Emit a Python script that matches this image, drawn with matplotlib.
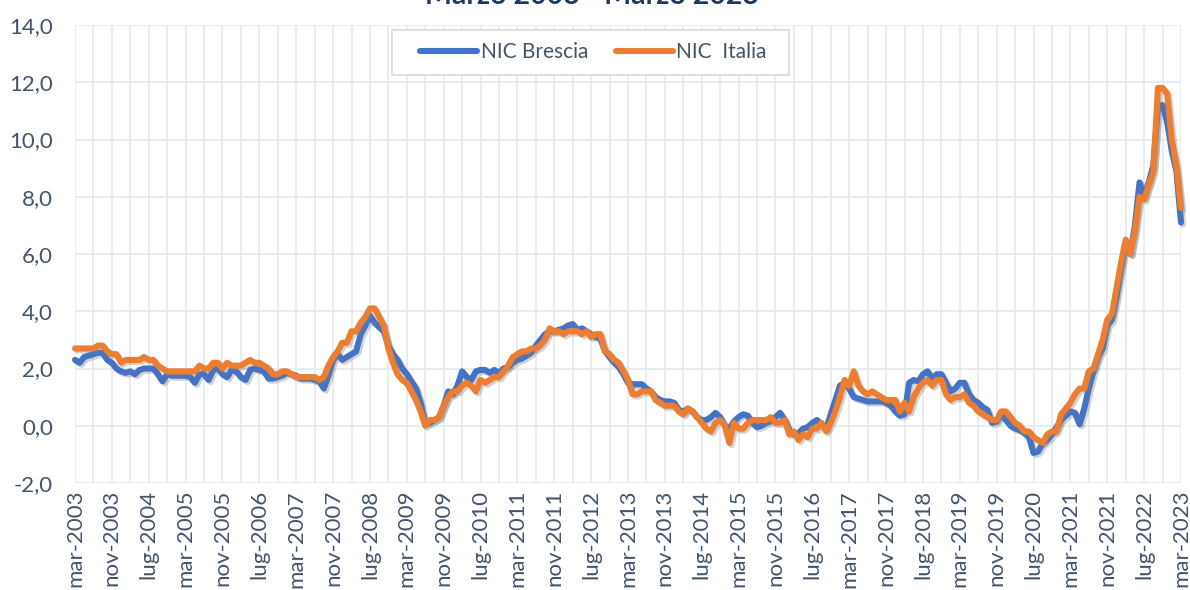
import matplotlib
matplotlib.use("Agg")
import matplotlib.pyplot as plt
import matplotlib.patheffects as pe
from matplotlib.patches import Rectangle
from matplotlib.ticker import FixedLocator, FuncFormatter
import numpy as np

# ---------------- data (monthly, mar-2003 .. mar-2023) ----------------
brescia = (
    [2.3, 2.2, 2.4, 2.45, 2.5, 2.55, 2.55, 2.3, 2.2, 2.0]                          # 2003 mar-dic
    + [1.9, 1.85, 1.9, 1.8, 1.95, 2.0, 2.0, 2.0, 1.8, 1.55, 1.8, 1.75]             # 2004
    + [1.75, 1.75, 1.75, 1.7, 1.5, 1.8, 1.8, 1.6, 1.95, 2.0, 1.8, 1.7]             # 2005
    + [1.95, 1.9, 1.7, 1.6, 1.95, 2.0, 1.95, 1.9, 1.65, 1.65, 1.7, 1.75]           # 2006
    + [1.85, 1.8, 1.75, 1.65, 1.65, 1.65, 1.6, 1.55, 1.3, 1.75, 2.3, 2.5]          # 2007
    + [2.3, 2.4, 2.5, 2.6, 3.2, 3.5, 3.85, 3.6, 3.45, 3.3, 2.8, 2.5]               # 2008
    + [2.3, 2.0, 1.8, 1.55, 1.3, 0.8, 0.1, 0.1, 0.2, 0.3, 0.7, 1.2]                # 2009
    + [1.1, 1.4, 1.9, 1.7, 1.6, 1.9, 1.95, 1.95, 1.85, 1.95, 1.85, 2.0]            # 2010
    + [2.05, 2.2, 2.3, 2.35, 2.45, 2.55, 2.8, 3.0, 3.2, 3.3, 3.3, 3.35]            # 2011
    + [3.4, 3.5, 3.55, 3.35, 3.4, 3.3, 3.2, 3.1, 3.05, 2.6, 2.4, 2.2]              # 2012
    + [2.05, 1.8, 1.5, 1.45, 1.45, 1.45, 1.3, 1.2, 1.0, 0.9, 0.85, 0.85]           # 2013
    + [0.8, 0.55, 0.5, 0.6, 0.5, 0.3, 0.2, 0.2, 0.3, 0.45, 0.3, 0.0]               # 2014
    + [-0.1, 0.15, 0.3, 0.4, 0.35, 0.1, -0.05, 0.0, 0.1, 0.15, 0.3, 0.45]          # 2015
    + [0.2, -0.15, -0.3, -0.25, -0.1, -0.05, 0.1, 0.2, 0.05, -0.1, 0.4, 0.9]       # 2016
    + [1.4, 1.5, 1.3, 1.0, 0.95, 0.9, 0.85, 0.85, 0.85, 0.85, 0.8, 0.7]            # 2017
    + [0.5, 0.35, 0.4, 1.5, 1.6, 1.55, 1.8, 1.9, 1.65, 1.8, 1.8, 1.5]              # 2018
    + [1.2, 1.3, 1.5, 1.5, 1.1, 0.9, 0.8, 0.65, 0.55, 0.1, 0.15, 0.4]              # 2019
    + [0.2, 0.0, -0.1, -0.15, -0.25, -0.4, -0.95, -0.9, -0.6, -0.5, -0.3, -0.05]   # 2020
    + [0.2, 0.35, 0.5, 0.45, 0.05, 0.6, 1.3, 1.9, 2.4, 2.7, 3.5, 3.7]              # 2021
    + [4.5, 5.5, 6.4, 6.0, 7.0, 8.5, 8.0, 8.5, 9.1, 11.2, 11.2, 10.6]              # 2022
    + [9.6, 8.9, 7.1]                                                             # 2023 gen-mar
)

italia = (
    [2.7, 2.7, 2.7, 2.7, 2.7, 2.8, 2.8, 2.6, 2.5, 2.5]                             # 2003 mar-dic
    + [2.2, 2.3, 2.3, 2.3, 2.3, 2.4, 2.3, 2.3, 2.1, 2.0, 1.9, 1.9]                 # 2004
    + [1.9, 1.9, 1.9, 1.9, 1.9, 2.1, 2.0, 2.0, 2.2, 2.2, 2.0, 2.2]                 # 2005
    + [2.1, 2.1, 2.1, 2.2, 2.3, 2.2, 2.2, 2.1, 2.0, 1.8, 1.8, 1.9]                 # 2006
    + [1.9, 1.8, 1.7, 1.7, 1.7, 1.7, 1.7, 1.6, 1.7, 2.1, 2.4, 2.6]                 # 2007
    + [2.9, 2.9, 3.3, 3.3, 3.6, 3.8, 4.1, 4.1, 3.8, 3.5, 2.7, 2.2]                 # 2008
    + [1.8, 1.6, 1.5, 1.2, 0.9, 0.5, 0.0, 0.2, 0.2, 0.3, 0.7, 1.0]                 # 2009
    + [1.2, 1.2, 1.4, 1.5, 1.4, 1.2, 1.6, 1.5, 1.6, 1.7, 1.7, 1.9]                 # 2010
    + [2.1, 2.4, 2.5, 2.6, 2.6, 2.7, 2.7, 2.8, 3.0, 3.4, 3.3, 3.3]                 # 2011
    + [3.2, 3.3, 3.3, 3.3, 3.2, 3.3, 3.1, 3.2, 3.2, 2.6, 2.5, 2.3]                 # 2012
    + [2.2, 1.9, 1.6, 1.1, 1.1, 1.2, 1.2, 1.2, 0.9, 0.8, 0.7, 0.7]                 # 2013
    + [0.7, 0.5, 0.4, 0.6, 0.5, 0.3, 0.1, -0.1, -0.2, 0.1, 0.2, 0.0]               # 2014
    + [-0.6, 0.1, -0.1, -0.1, 0.1, 0.2, 0.2, 0.2, 0.2, 0.3, 0.1, 0.1]              # 2015
    + [0.2, -0.3, -0.2, -0.5, -0.3, -0.4, -0.1, -0.1, 0.1, -0.2, 0.1, 0.5]         # 2016
    + [1.0, 1.6, 1.4, 1.9, 1.4, 1.2, 1.1, 1.2, 1.1, 1.0, 0.9, 0.9]                 # 2017
    + [0.9, 0.5, 0.8, 0.5, 1.0, 1.3, 1.5, 1.6, 1.4, 1.6, 1.6, 1.1]                 # 2018
    + [0.9, 1.0, 1.0, 1.1, 0.8, 0.7, 0.5, 0.4, 0.3, 0.2, 0.2, 0.5]                 # 2019
    + [0.5, 0.3, 0.1, 0.0, -0.2, -0.2, -0.4, -0.5, -0.6, -0.3, -0.2, -0.2]         # 2020
    + [0.4, 0.6, 0.8, 1.1, 1.3, 1.3, 1.9, 2.0, 2.5, 3.0, 3.7, 3.9]                 # 2021
    + [4.8, 5.7, 6.5, 6.0, 6.8, 8.0, 7.9, 8.4, 8.9, 11.8, 11.8, 11.6]              # 2022
    + [10.0, 9.1, 7.6]                                                            # 2023 gen-mar
)

tick_labels = [
    "mar-2003", "nov-2003", "lug-2004", "mar-2005", "nov-2005", "lug-2006",
    "mar-2007", "nov-2007", "lug-2008", "mar-2009", "nov-2009", "lug-2010",
    "mar-2011", "nov-2011", "lug-2012", "mar-2013", "nov-2013", "lug-2014",
    "mar-2015", "nov-2015", "lug-2016", "mar-2017", "nov-2017", "lug-2018",
    "mar-2019", "nov-2019", "lug-2020", "mar-2021", "nov-2021", "lug-2022",
    "mar-2023",
]
series_names = ["NIC Brescia", "NIC  Italia"]
title = "Marzo 2003 - Marzo 2023"

# ---------------- styling ----------------
plt.rcParams["font.family"] = ["Lato", "DejaVu Sans"]
TXT = "#44546A"
GRID = "#E6E9EE"
BLUE = "#4472C4"
ORANGE = "#ED7D31"
W, H = 1190, 590

fig = plt.figure(figsize=(W / 100, H / 100), dpi=100)
ax = fig.add_axes([75 / W, 1 - 483 / H, (1181 - 75) / W, (483 - 25) / H])

n = len(italia)

shadow = [pe.SimpleLineShadow(offset=(1.5, -1.5), shadow_color="#7F7F7F", alpha=0.35),
          pe.Normal()]
for vals, col, name in [(brescia, BLUE, series_names[0]), (italia, ORANGE, series_names[1])]:
    ax.plot(np.arange(len(vals)), vals, color=col, lw=4.4, label=name,
            solid_joinstyle="round", solid_capstyle="round",
            path_effects=shadow, clip_on=False, zorder=3)

ax.set_xlim(0, n - 1)
ax.set_ylim(-2, 14)
ax.set_yticks(np.arange(-2, 14.1, 2))
ax.yaxis.set_major_formatter(FuncFormatter(lambda v, p: f"{v:.1f}".replace(".", ",")))

major_pos = np.arange(0, n, 8)[: len(tick_labels)]
ax.set_xticks(major_pos)
ax.set_xticklabels(tick_labels, rotation=90, ha="center", va="top")
ax.xaxis.set_minor_locator(FixedLocator(np.arange(0, n, 4)))

ax.grid(True, which="major", axis="both", color=GRID, lw=1.3, zorder=0)
ax.grid(True, which="minor", axis="x", color=GRID, lw=1.3, zorder=0)
ax.tick_params(axis="both", which="both", length=0, colors=TXT, labelsize=16)
ax.tick_params(axis="y", which="major", pad=16)
ax.tick_params(axis="x", which="major", pad=5)
for s in ax.spines.values():
    s.set_visible(False)

# legend frame (drawn separately to match the wide padding) + entries
fig.patches.append(Rectangle((392 / W, 1 - 75 / H), (789 - 392) / W, (75 - 30) / H,
                             transform=fig.transFigure, facecolor="white",
                             edgecolor="#D9D9D9", lw=1.2, zorder=5))
leg = fig.legend(loc="center", bbox_to_anchor=(593.5 / W, 1 - 52.5 / H), ncol=2,
                 frameon=False, fontsize=15, handlelength=2.75, handletextpad=0.15,
                 columnspacing=1.35, borderaxespad=0)
leg.set_zorder(6)
for t in leg.get_texts():
    t.set_color(TXT)
for h in leg.get_lines():
    h.set_path_effects([])
    h.set_linewidth(4.4)
    h.set_solid_capstyle("round")

fig.text(592 / W, 1 - 4 / H, title, ha="center", va="baseline",
         fontsize=20.5, fontweight="bold", color="#1F3864")

fig.savefig("out.png", dpi=100)
